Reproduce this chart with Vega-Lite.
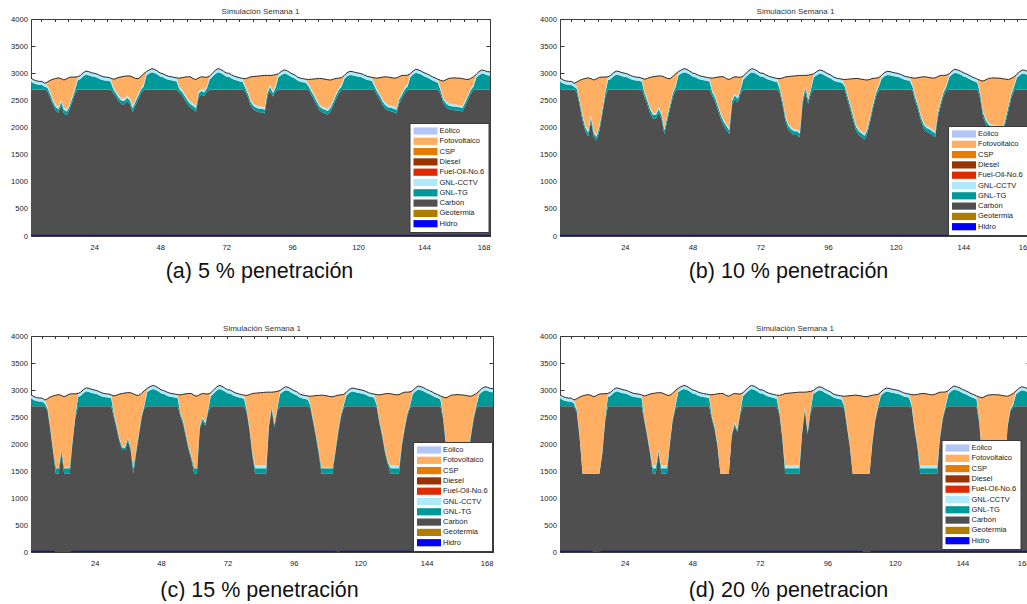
{
  "$schema": "https://vega.github.io/schema/vega-lite/v6.json",
  "background": "white",
  "padding": {"left": 10, "top": 7, "right": 0, "bottom": 0},
  "config": {
    "font": "Liberation Sans",
    "view": {"stroke": "#3c3c3c", "strokeWidth": 1},
    "title": {"font": "Liberation Sans", "fontSize": 8, "fontWeight": "normal", "color": "#333", "offset": -1},
    "axis": {"domain": false, "grid": false, "tickColor": "#333", "tickSize": -4, "labelFont": "Liberation Sans", "labelFontSize": 7.6, "labelColor": "#222", "titleFont": "Liberation Sans", "titleFontSize": 21.5, "titleFontWeight": "normal", "titleColor": "#111"},
    "axisBottom": {"labelPadding": 11, "titleY": 35, "titleBaseline": "middle", "titleAlign": "center"},
    "axisLeft": {"labelPadding": 7.5},
    "axisTop": {"labels": false, "tickSize": -2.5},
    "axisRight": {"labels": false},
    "legend": {"orient": "none", "direction": "vertical", "fillColor": "white", "strokeColor": "#3a3a3a", "strokeWidth": 1, "padding": 4, "labelFont": "Liberation Sans", "labelFontSize": 7.5, "labelColor": "#222", "labelOffset": 10, "symbolType": "M-3,-0.9H3V0.9H-3Z", "symbolSize": 64, "symbolOffset": 8, "symbolStrokeWidth": 0, "symbolOpacity": 1, "rowPadding": 2.3}
  },
  "datasets": {
    "hid": [
      {"p":"a","h":1,"v":22},{"p":"a","h":168,"v":22},
      {"p":"b","h":1,"v":22},{"p":"b","h":168,"v":22},
      {"p":"c","h":1,"v":22},{"p":"c","h":9,"v":22},{"p":"c","h":10,"v":0},{"p":"c","h":15,"v":0},{"p":"c","h":16,"v":22},{"p":"c","h":111,"v":22},{"p":"c","h":112,"v":0},{"p":"c","h":113,"v":22},{"p":"c","h":156,"v":22},{"p":"c","h":157,"v":0},{"p":"c","h":158,"v":22},{"p":"c","h":168,"v":22},
      {"p":"d","h":1,"v":22},{"p":"d","h":12,"v":22},{"p":"d","h":13,"v":0},{"p":"d","h":15,"v":0},{"p":"d","h":16,"v":22},{"p":"d","h":108,"v":22},{"p":"d","h":109,"v":0},{"p":"d","h":111,"v":0},{"p":"d","h":112,"v":22},{"p":"d","h":168,"v":22}
    ],
    "gen": [
      {"p":"n","h":1,"C":2700,"D":145,"E":65,"I":0},{"p":"n","h":2,"C":2700,"D":115,"E":65,"I":0},{"p":"n","h":3,"C":2700,"D":95,"E":65,"I":0},{"p":"n","h":4,"C":2700,"D":85,"E":65,"I":0},{"p":"n","h":5,"C":2700,"D":85,"E":65,"I":0},{"p":"n","h":6,"C":2700,"D":50,"E":65,"I":0},
      {"p":"n","h":18,"C":2700,"D":170,"E":65,"I":0},{"p":"n","h":19,"C":2700,"D":195,"E":65,"I":0},{"p":"n","h":20,"C":2700,"D":245,"E":65,"I":0},{"p":"n","h":21,"C":2700,"D":275,"E":65,"I":0},{"p":"n","h":22,"C":2700,"D":265,"E":65,"I":0},{"p":"n","h":23,"C":2700,"D":245,"E":65,"I":0},{"p":"n","h":24,"C":2700,"D":235,"E":65,"I":0},{"p":"n","h":25,"C":2700,"D":220,"E":65,"I":0},{"p":"n","h":26,"C":2700,"D":195,"E":65,"I":0},{"p":"n","h":27,"C":2700,"D":175,"E":65,"I":0},{"p":"n","h":28,"C":2700,"D":165,"E":65,"I":0},{"p":"n","h":29,"C":2700,"D":160,"E":65,"I":0},{"p":"n","h":30,"C":2700,"D":145,"E":65,"I":0},
      {"p":"n","h":43,"C":2700,"D":265,"E":65,"I":0},{"p":"n","h":44,"C":2700,"D":295,"E":65,"I":0},{"p":"n","h":45,"C":2700,"D":320,"E":65,"I":0},{"p":"n","h":46,"C":2700,"D":305,"E":65,"I":0},{"p":"n","h":47,"C":2700,"D":275,"E":65,"I":0},{"p":"n","h":48,"C":2700,"D":240,"E":65,"I":0},{"p":"n","h":49,"C":2700,"D":225,"E":65,"I":0},{"p":"n","h":50,"C":2700,"D":200,"E":65,"I":0},{"p":"n","h":51,"C":2700,"D":180,"E":65,"I":0},{"p":"n","h":52,"C":2700,"D":170,"E":65,"I":0},{"p":"n","h":53,"C":2700,"D":160,"E":65,"I":0},{"p":"n","h":54,"C":2700,"D":150,"E":65,"I":0},
      {"p":"n","h":66,"C":2700,"D":185,"E":65,"I":0},{"p":"n","h":67,"C":2700,"D":235,"E":65,"I":0},{"p":"n","h":68,"C":2700,"D":285,"E":65,"I":0},{"p":"n","h":69,"C":2700,"D":320,"E":65,"I":0},{"p":"n","h":70,"C":2700,"D":305,"E":65,"I":0},{"p":"n","h":71,"C":2700,"D":275,"E":65,"I":0},{"p":"n","h":72,"C":2700,"D":240,"E":65,"I":0},{"p":"n","h":73,"C":2700,"D":235,"E":65,"I":0},{"p":"n","h":74,"C":2700,"D":205,"E":65,"I":0},{"p":"n","h":75,"C":2700,"D":180,"E":65,"I":0},{"p":"n","h":76,"C":2700,"D":165,"E":65,"I":0},{"p":"n","h":77,"C":2700,"D":150,"E":65,"I":0},{"p":"n","h":78,"C":2700,"D":140,"E":65,"I":0},
      {"p":"n","h":91,"C":2700,"D":225,"E":65,"I":0},{"p":"n","h":92,"C":2700,"D":265,"E":65,"I":0},{"p":"n","h":93,"C":2700,"D":295,"E":65,"I":0},{"p":"n","h":94,"C":2700,"D":285,"E":65,"I":0},{"p":"n","h":95,"C":2700,"D":255,"E":65,"I":0},{"p":"n","h":96,"C":2700,"D":225,"E":65,"I":0},{"p":"n","h":97,"C":2700,"D":205,"E":65,"I":0},{"p":"n","h":98,"C":2700,"D":165,"E":65,"I":0},{"p":"n","h":99,"C":2700,"D":145,"E":65,"I":0},{"p":"n","h":100,"C":2700,"D":135,"E":65,"I":0},{"p":"n","h":101,"C":2700,"D":125,"E":65,"I":0},
      {"p":"n","h":115,"C":2700,"D":195,"E":65,"I":0},{"p":"n","h":116,"C":2700,"D":245,"E":65,"I":0},{"p":"n","h":117,"C":2700,"D":270,"E":65,"I":0},{"p":"n","h":118,"C":2700,"D":265,"E":65,"I":0},{"p":"n","h":119,"C":2700,"D":250,"E":65,"I":0},{"p":"n","h":120,"C":2700,"D":240,"E":65,"I":0},{"p":"n","h":121,"C":2700,"D":230,"E":65,"I":0},{"p":"n","h":122,"C":2700,"D":210,"E":65,"I":0},{"p":"n","h":123,"C":2700,"D":185,"E":65,"I":0},{"p":"n","h":124,"C":2700,"D":170,"E":65,"I":0},{"p":"n","h":125,"C":2700,"D":160,"E":65,"I":0},
      {"p":"n","h":139,"C":2700,"D":225,"E":65,"I":0},{"p":"n","h":140,"C":2700,"D":275,"E":65,"I":0},{"p":"n","h":141,"C":2700,"D":310,"E":65,"I":0},{"p":"n","h":142,"C":2700,"D":295,"E":65,"I":0},{"p":"n","h":143,"C":2700,"D":275,"E":65,"I":0},{"p":"n","h":144,"C":2700,"D":245,"E":65,"I":0},{"p":"n","h":145,"C":2700,"D":225,"E":65,"I":0},{"p":"n","h":146,"C":2700,"D":200,"E":65,"I":0},{"p":"n","h":147,"C":2700,"D":170,"E":65,"I":0},{"p":"n","h":148,"C":2700,"D":150,"E":65,"I":0},{"p":"n","h":149,"C":2700,"D":125,"E":65,"I":0},
      {"p":"n","h":163,"C":2700,"D":215,"E":65,"I":0},{"p":"n","h":164,"C":2700,"D":265,"E":65,"I":0},{"p":"n","h":165,"C":2700,"D":295,"E":65,"I":0},{"p":"n","h":166,"C":2700,"D":285,"E":65,"I":0},{"p":"n","h":167,"C":2700,"D":265,"E":65,"I":0},{"p":"n","h":168,"C":2700,"D":260,"E":65,"I":0},

      {"p":"a","h":7,"C":2670,"D":65,"E":40,"I":65},{"p":"a","h":8,"C":2550,"D":65,"E":40,"I":215},{"p":"a","h":9,"C":2415,"D":65,"E":40,"I":370},{"p":"a","h":10,"C":2315,"D":65,"E":40,"I":485},{"p":"a","h":11,"C":2270,"D":65,"E":40,"I":540},{"p":"a","h":12,"C":2410,"D":65,"E":40,"I":385},{"p":"a","h":13,"C":2260,"D":65,"E":40,"I":510},{"p":"a","h":14,"C":2230,"D":65,"E":40,"I":565},{"p":"a","h":15,"C":2325,"D":65,"E":40,"I":495},{"p":"a","h":16,"C":2475,"D":65,"E":40,"I":350},{"p":"a","h":17,"C":2625,"D":65,"E":40,"I":200},
      {"p":"a","h":31,"C":2630,"D":65,"E":40,"I":155},{"p":"a","h":32,"C":2560,"D":65,"E":40,"I":240},{"p":"a","h":33,"C":2480,"D":65,"E":40,"I":340},{"p":"a","h":34,"C":2430,"D":65,"E":40,"I":400},{"p":"a","h":35,"C":2430,"D":65,"E":40,"I":410},{"p":"a","h":36,"C":2485,"D":65,"E":40,"I":360},{"p":"a","h":37,"C":2430,"D":65,"E":40,"I":415},{"p":"a","h":38,"C":2290,"D":65,"E":40,"I":535},{"p":"a","h":39,"C":2410,"D":65,"E":40,"I":390},{"p":"a","h":40,"C":2520,"D":65,"E":40,"I":275},{"p":"a","h":41,"C":2630,"D":65,"E":40,"I":205},{"p":"a","h":42,"C":2690,"D":65,"E":40,"I":195},
      {"p":"a","h":55,"C":2640,"D":65,"E":40,"I":165},{"p":"a","h":56,"C":2590,"D":65,"E":40,"I":225},{"p":"a","h":57,"C":2510,"D":65,"E":40,"I":315},{"p":"a","h":58,"C":2430,"D":65,"E":40,"I":400},{"p":"a","h":59,"C":2370,"D":65,"E":40,"I":460},{"p":"a","h":60,"C":2330,"D":65,"E":40,"I":465},{"p":"a","h":61,"C":2290,"D":65,"E":40,"I":490},{"p":"a","h":62,"C":2560,"D":65,"E":40,"I":250},{"p":"a","h":63,"C":2610,"D":65,"E":40,"I":220},{"p":"a","h":64,"C":2580,"D":65,"E":40,"I":245},{"p":"a","h":65,"C":2660,"D":65,"E":40,"I":160},
      {"p":"a","h":79,"C":2660,"D":65,"E":40,"I":135},{"p":"a","h":80,"C":2550,"D":65,"E":40,"I":260},{"p":"a","h":81,"C":2400,"D":65,"E":40,"I":430},{"p":"a","h":82,"C":2330,"D":65,"E":40,"I":505},{"p":"a","h":83,"C":2300,"D":65,"E":40,"I":540},{"p":"a","h":84,"C":2280,"D":65,"E":40,"I":565},{"p":"a","h":85,"C":2280,"D":65,"E":40,"I":570},{"p":"a","h":86,"C":2260,"D":65,"E":40,"I":595},{"p":"a","h":87,"C":2570,"D":65,"E":40,"I":285},{"p":"a","h":88,"C":2680,"D":65,"E":40,"I":175},{"p":"a","h":89,"C":2570,"D":65,"E":40,"I":290},{"p":"a","h":90,"C":2670,"D":65,"E":40,"I":200},
      {"p":"a","h":102,"C":2690,"D":65,"E":40,"I":90},{"p":"a","h":103,"C":2600,"D":65,"E":40,"I":185},{"p":"a","h":104,"C":2510,"D":65,"E":40,"I":280},{"p":"a","h":105,"C":2410,"D":65,"E":40,"I":385},{"p":"a","h":106,"C":2320,"D":65,"E":40,"I":480},{"p":"a","h":107,"C":2280,"D":65,"E":40,"I":515},{"p":"a","h":108,"C":2260,"D":65,"E":40,"I":525},{"p":"a","h":109,"C":2240,"D":65,"E":40,"I":535},{"p":"a","h":110,"C":2300,"D":65,"E":40,"I":470},{"p":"a","h":111,"C":2410,"D":65,"E":40,"I":375},{"p":"a","h":112,"C":2530,"D":65,"E":40,"I":270},{"p":"a","h":113,"C":2630,"D":65,"E":40,"I":175},{"p":"a","h":114,"C":2690,"D":65,"E":40,"I":125},
      {"p":"a","h":126,"C":2690,"D":65,"E":40,"I":120},{"p":"a","h":127,"C":2590,"D":65,"E":40,"I":215},{"p":"a","h":128,"C":2510,"D":65,"E":40,"I":305},{"p":"a","h":129,"C":2410,"D":65,"E":40,"I":415},{"p":"a","h":130,"C":2340,"D":65,"E":40,"I":490},{"p":"a","h":131,"C":2310,"D":65,"E":40,"I":515},{"p":"a","h":132,"C":2300,"D":65,"E":40,"I":515},{"p":"a","h":133,"C":2280,"D":65,"E":40,"I":525},{"p":"a","h":134,"C":2260,"D":65,"E":40,"I":550},{"p":"a","h":135,"C":2450,"D":65,"E":40,"I":385},{"p":"a","h":136,"C":2550,"D":65,"E":40,"I":305},{"p":"a","h":137,"C":2640,"D":65,"E":40,"I":215},{"p":"a","h":138,"C":2690,"D":65,"E":40,"I":170},
      {"p":"a","h":150,"C":2620,"D":65,"E":40,"I":145},{"p":"a","h":151,"C":2450,"D":65,"E":40,"I":300},{"p":"a","h":152,"C":2380,"D":65,"E":40,"I":395},{"p":"a","h":153,"C":2340,"D":65,"E":40,"I":460},{"p":"a","h":154,"C":2325,"D":65,"E":40,"I":480},{"p":"a","h":155,"C":2320,"D":65,"E":40,"I":490},{"p":"a","h":156,"C":2315,"D":65,"E":40,"I":490},{"p":"a","h":157,"C":2310,"D":65,"E":40,"I":495},{"p":"a","h":158,"C":2295,"D":65,"E":40,"I":500},{"p":"a","h":159,"C":2400,"D":65,"E":40,"I":385},{"p":"a","h":160,"C":2510,"D":65,"E":40,"I":270},{"p":"a","h":161,"C":2620,"D":65,"E":40,"I":180},{"p":"a","h":162,"C":2690,"D":65,"E":40,"I":140},

      {"p":"b","h":7,"C":2640,"D":70,"E":35,"I":95},{"p":"b","h":8,"C":2400,"D":70,"E":35,"I":365},{"p":"b","h":9,"C":2130,"D":70,"E":35,"I":655},{"p":"b","h":10,"C":1930,"D":70,"E":35,"I":870},{"p":"b","h":11,"C":1840,"D":70,"E":35,"I":970},{"p":"b","h":12,"C":2120,"D":70,"E":35,"I":675},{"p":"b","h":13,"C":1820,"D":70,"E":35,"I":950},{"p":"b","h":14,"C":1760,"D":70,"E":35,"I":1035},{"p":"b","h":15,"C":1950,"D":70,"E":35,"I":870},{"p":"b","h":16,"C":2250,"D":70,"E":35,"I":575},{"p":"b","h":17,"C":2550,"D":70,"E":35,"I":275},
      {"p":"b","h":31,"C":2560,"D":70,"E":35,"I":225},{"p":"b","h":32,"C":2420,"D":70,"E":35,"I":380},{"p":"b","h":33,"C":2260,"D":70,"E":35,"I":560},{"p":"b","h":34,"C":2160,"D":70,"E":35,"I":670},{"p":"b","h":35,"C":2160,"D":70,"E":35,"I":680},{"p":"b","h":36,"C":2270,"D":70,"E":35,"I":575},{"p":"b","h":37,"C":2160,"D":70,"E":35,"I":685},{"p":"b","h":38,"C":1880,"D":70,"E":35,"I":945},{"p":"b","h":39,"C":2120,"D":70,"E":35,"I":680},{"p":"b","h":40,"C":2340,"D":70,"E":35,"I":455},{"p":"b","h":41,"C":2560,"D":70,"E":35,"I":275},{"p":"b","h":42,"C":2680,"D":70,"E":35,"I":205},
      {"p":"b","h":55,"C":2580,"D":70,"E":35,"I":225},{"p":"b","h":56,"C":2480,"D":70,"E":35,"I":335},{"p":"b","h":57,"C":2320,"D":70,"E":35,"I":505},{"p":"b","h":58,"C":2160,"D":70,"E":35,"I":670},{"p":"b","h":59,"C":2040,"D":70,"E":35,"I":790},{"p":"b","h":60,"C":1960,"D":70,"E":35,"I":835},{"p":"b","h":61,"C":1880,"D":70,"E":35,"I":900},{"p":"b","h":62,"C":2420,"D":70,"E":35,"I":390},{"p":"b","h":63,"C":2520,"D":70,"E":35,"I":310},{"p":"b","h":64,"C":2460,"D":70,"E":35,"I":365},{"p":"b","h":65,"C":2620,"D":70,"E":35,"I":200},
      {"p":"b","h":79,"C":2620,"D":70,"E":35,"I":175},{"p":"b","h":80,"C":2400,"D":70,"E":35,"I":410},{"p":"b","h":81,"C":2100,"D":70,"E":35,"I":730},{"p":"b","h":82,"C":1960,"D":70,"E":35,"I":875},{"p":"b","h":83,"C":1900,"D":70,"E":35,"I":940},{"p":"b","h":84,"C":1860,"D":70,"E":35,"I":985},{"p":"b","h":85,"C":1860,"D":70,"E":35,"I":990},{"p":"b","h":86,"C":1820,"D":70,"E":35,"I":1035},{"p":"b","h":87,"C":2440,"D":70,"E":35,"I":415},{"p":"b","h":88,"C":2660,"D":70,"E":35,"I":195},{"p":"b","h":89,"C":2440,"D":70,"E":35,"I":420},{"p":"b","h":90,"C":2640,"D":70,"E":35,"I":230},
      {"p":"b","h":102,"C":2680,"D":70,"E":35,"I":100},{"p":"b","h":103,"C":2500,"D":70,"E":35,"I":285},{"p":"b","h":104,"C":2320,"D":70,"E":35,"I":470},{"p":"b","h":105,"C":2120,"D":70,"E":35,"I":675},{"p":"b","h":106,"C":1940,"D":70,"E":35,"I":860},{"p":"b","h":107,"C":1860,"D":70,"E":35,"I":935},{"p":"b","h":108,"C":1820,"D":70,"E":35,"I":965},{"p":"b","h":109,"C":1780,"D":70,"E":35,"I":995},{"p":"b","h":110,"C":1900,"D":70,"E":35,"I":870},{"p":"b","h":111,"C":2120,"D":70,"E":35,"I":665},{"p":"b","h":112,"C":2360,"D":70,"E":35,"I":440},{"p":"b","h":113,"C":2560,"D":70,"E":35,"I":245},{"p":"b","h":114,"C":2680,"D":70,"E":35,"I":135},
      {"p":"b","h":126,"C":2680,"D":70,"E":35,"I":130},{"p":"b","h":127,"C":2480,"D":70,"E":35,"I":325},{"p":"b","h":128,"C":2320,"D":70,"E":35,"I":495},{"p":"b","h":129,"C":2120,"D":70,"E":35,"I":705},{"p":"b","h":130,"C":1980,"D":70,"E":35,"I":850},{"p":"b","h":131,"C":1920,"D":70,"E":35,"I":905},{"p":"b","h":132,"C":1900,"D":70,"E":35,"I":915},{"p":"b","h":133,"C":1860,"D":70,"E":35,"I":945},{"p":"b","h":134,"C":1820,"D":70,"E":35,"I":990},{"p":"b","h":135,"C":2200,"D":70,"E":35,"I":635},{"p":"b","h":136,"C":2400,"D":70,"E":35,"I":455},{"p":"b","h":137,"C":2580,"D":70,"E":35,"I":275},{"p":"b","h":138,"C":2680,"D":70,"E":35,"I":180},
      {"p":"b","h":150,"C":2540,"D":70,"E":35,"I":225},{"p":"b","h":151,"C":2200,"D":70,"E":35,"I":550},{"p":"b","h":152,"C":2060,"D":70,"E":35,"I":715},{"p":"b","h":153,"C":1980,"D":70,"E":35,"I":820},{"p":"b","h":154,"C":1950,"D":70,"E":35,"I":855},{"p":"b","h":155,"C":1940,"D":70,"E":35,"I":870},{"p":"b","h":156,"C":1930,"D":70,"E":35,"I":875},{"p":"b","h":157,"C":1920,"D":70,"E":35,"I":885},{"p":"b","h":158,"C":1890,"D":70,"E":35,"I":905},{"p":"b","h":159,"C":2100,"D":70,"E":35,"I":685},{"p":"b","h":160,"C":2320,"D":70,"E":35,"I":460},{"p":"b","h":161,"C":2540,"D":70,"E":35,"I":260},{"p":"b","h":162,"C":2680,"D":70,"E":35,"I":150},

      {"p":"c","h":7,"C":2610,"D":45,"E":25,"I":160},{"p":"c","h":8,"C":2250,"D":45,"E":25,"I":550},{"p":"c","h":9,"C":1845,"D":45,"E":25,"I":975},{"p":"c","h":10,"C":1450,"D":100,"E":10,"I":1345},{"p":"c","h":11,"C":1450,"D":100,"E":10,"I":1355},{"p":"c","h":12,"C":1830,"D":45,"E":25,"I":1000},{"p":"c","h":13,"C":1450,"D":100,"E":10,"I":1315},{"p":"c","h":14,"C":1450,"D":100,"E":10,"I":1340},{"p":"c","h":15,"C":1450,"D":100,"E":10,"I":1365},{"p":"c","h":16,"C":2025,"D":45,"E":25,"I":835},{"p":"c","h":17,"C":2475,"D":45,"E":25,"I":385},
      {"p":"c","h":31,"C":2490,"D":45,"E":25,"I":330},{"p":"c","h":32,"C":2280,"D":45,"E":25,"I":555},{"p":"c","h":33,"C":2040,"D":45,"E":25,"I":815},{"p":"c","h":34,"C":1890,"D":45,"E":25,"I":975},{"p":"c","h":35,"C":1890,"D":45,"E":25,"I":985},{"p":"c","h":36,"C":2055,"D":45,"E":25,"I":825},{"p":"c","h":37,"C":1890,"D":45,"E":25,"I":990},{"p":"c","h":38,"C":1450,"D":100,"E":10,"I":1370},{"p":"c","h":39,"C":1830,"D":45,"E":25,"I":1005},{"p":"c","h":40,"C":2160,"D":45,"E":25,"I":670},{"p":"c","h":41,"C":2490,"D":45,"E":25,"I":380},{"p":"c","h":42,"C":2670,"D":45,"E":25,"I":250},
      {"p":"c","h":55,"C":2520,"D":45,"E":25,"I":320},{"p":"c","h":56,"C":2370,"D":45,"E":25,"I":480},{"p":"c","h":57,"C":2130,"D":45,"E":25,"I":730},{"p":"c","h":58,"C":1890,"D":45,"E":25,"I":975},{"p":"c","h":59,"C":1710,"D":45,"E":25,"I":1155},{"p":"c","h":60,"C":1450,"D":100,"E":10,"I":1340},{"p":"c","h":61,"C":1450,"D":100,"E":10,"I":1325},{"p":"c","h":62,"C":2280,"D":45,"E":25,"I":565},{"p":"c","h":63,"C":2430,"D":45,"E":25,"I":435},{"p":"c","h":64,"C":2340,"D":45,"E":25,"I":520},{"p":"c","h":65,"C":2580,"D":45,"E":25,"I":275},
      {"p":"c","h":79,"C":2580,"D":45,"E":25,"I":250},{"p":"c","h":80,"C":2250,"D":45,"E":25,"I":595},{"p":"c","h":81,"C":1800,"D":45,"E":25,"I":1065},{"p":"c","h":82,"C":1450,"D":100,"E":50,"I":1340},{"p":"c","h":83,"C":1450,"D":100,"E":50,"I":1345},{"p":"c","h":84,"C":1450,"D":100,"E":50,"I":1350},{"p":"c","h":85,"C":1450,"D":100,"E":50,"I":1355},{"p":"c","h":86,"C":1450,"D":100,"E":50,"I":1360},{"p":"c","h":87,"C":2310,"D":45,"E":25,"I":580},{"p":"c","h":88,"C":2640,"D":45,"E":25,"I":250},{"p":"c","h":89,"C":2310,"D":45,"E":25,"I":585},{"p":"c","h":90,"C":2610,"D":45,"E":25,"I":295},
      {"p":"c","h":102,"C":2670,"D":45,"E":25,"I":145},{"p":"c","h":103,"C":2400,"D":45,"E":25,"I":420},{"p":"c","h":104,"C":2130,"D":45,"E":25,"I":695},{"p":"c","h":105,"C":1830,"D":45,"E":25,"I":1000},{"p":"c","h":106,"C":1450,"D":100,"E":10,"I":1345},{"p":"c","h":107,"C":1450,"D":100,"E":10,"I":1340},{"p":"c","h":108,"C":1450,"D":100,"E":10,"I":1330},{"p":"c","h":109,"C":1450,"D":100,"E":10,"I":1320},{"p":"c","h":110,"C":1450,"D":100,"E":10,"I":1315},{"p":"c","h":111,"C":1830,"D":45,"E":25,"I":990},{"p":"c","h":112,"C":2190,"D":45,"E":25,"I":645},{"p":"c","h":113,"C":2490,"D":45,"E":25,"I":350},{"p":"c","h":114,"C":2670,"D":45,"E":25,"I":180},
      {"p":"c","h":126,"C":2670,"D":45,"E":25,"I":175},{"p":"c","h":127,"C":2370,"D":45,"E":25,"I":470},{"p":"c","h":128,"C":2130,"D":45,"E":25,"I":720},{"p":"c","h":129,"C":1830,"D":45,"E":25,"I":1030},{"p":"c","h":130,"C":1620,"D":45,"E":25,"I":1245},{"p":"c","h":131,"C":1450,"D":100,"E":50,"I":1330},{"p":"c","h":132,"C":1450,"D":100,"E":50,"I":1320},{"p":"c","h":133,"C":1450,"D":100,"E":50,"I":1310},{"p":"c","h":134,"C":1450,"D":100,"E":50,"I":1315},{"p":"c","h":135,"C":1950,"D":45,"E":25,"I":920},{"p":"c","h":136,"C":2250,"D":45,"E":25,"I":640},{"p":"c","h":137,"C":2520,"D":45,"E":25,"I":370},{"p":"c","h":138,"C":2670,"D":45,"E":25,"I":225},
      {"p":"c","h":150,"C":2460,"D":45,"E":25,"I":340},{"p":"c","h":151,"C":1950,"D":45,"E":25,"I":835},{"p":"c","h":152,"C":1740,"D":45,"E":25,"I":1070},{"p":"c","h":153,"C":1620,"D":45,"E":25,"I":1215},{"p":"c","h":154,"C":1450,"D":100,"E":10,"I":1350},{"p":"c","h":155,"C":1450,"D":100,"E":10,"I":1355},{"p":"c","h":156,"C":1450,"D":100,"E":10,"I":1350},{"p":"c","h":157,"C":1450,"D":100,"E":10,"I":1350},{"p":"c","h":158,"C":1450,"D":100,"E":10,"I":1340},{"p":"c","h":159,"C":1800,"D":45,"E":25,"I":1020},{"p":"c","h":160,"C":2130,"D":45,"E":25,"I":685},{"p":"c","h":161,"C":2460,"D":45,"E":25,"I":375},{"p":"c","h":162,"C":2670,"D":45,"E":25,"I":195},

      {"p":"d","h":7,"C":2580,"D":40,"E":25,"I":195},{"p":"d","h":8,"C":2100,"D":40,"E":25,"I":705},{"p":"d","h":9,"C":1450,"D":0,"E":0,"I":1440},{"p":"d","h":10,"C":1450,"D":0,"E":0,"I":1455},{"p":"d","h":11,"C":1450,"D":0,"E":0,"I":1465},{"p":"d","h":12,"C":1450,"D":0,"E":0,"I":1450},{"p":"d","h":13,"C":1450,"D":0,"E":0,"I":1425},{"p":"d","h":14,"C":1450,"D":0,"E":0,"I":1450},{"p":"d","h":15,"C":1450,"D":0,"E":0,"I":1475},{"p":"d","h":16,"C":1800,"D":40,"E":25,"I":1065},{"p":"d","h":17,"C":2400,"D":40,"E":25,"I":465},
      {"p":"d","h":31,"C":2420,"D":40,"E":25,"I":405},{"p":"d","h":32,"C":2140,"D":40,"E":25,"I":700},{"p":"d","h":33,"C":1820,"D":40,"E":25,"I":1040},{"p":"d","h":34,"C":1450,"D":100,"E":50,"I":1335},{"p":"d","h":35,"C":1450,"D":100,"E":50,"I":1345},{"p":"d","h":36,"C":1840,"D":40,"E":25,"I":1045},{"p":"d","h":37,"C":1450,"D":100,"E":50,"I":1350},{"p":"d","h":38,"C":1450,"D":100,"E":50,"I":1330},{"p":"d","h":39,"C":1450,"D":100,"E":50,"I":1305},{"p":"d","h":40,"C":1980,"D":40,"E":25,"I":855},{"p":"d","h":41,"C":2420,"D":40,"E":25,"I":455},{"p":"d","h":42,"C":2660,"D":40,"E":25,"I":265},
      {"p":"d","h":55,"C":2460,"D":40,"E":25,"I":385},{"p":"d","h":56,"C":2260,"D":40,"E":25,"I":595},{"p":"d","h":57,"C":1940,"D":40,"E":25,"I":925},{"p":"d","h":58,"C":1450,"D":0,"E":0,"I":1485},{"p":"d","h":59,"C":1450,"D":0,"E":0,"I":1485},{"p":"d","h":60,"C":1450,"D":0,"E":0,"I":1450},{"p":"d","h":61,"C":1450,"D":0,"E":0,"I":1435},{"p":"d","h":62,"C":2140,"D":40,"E":25,"I":710},{"p":"d","h":63,"C":2340,"D":40,"E":25,"I":530},{"p":"d","h":64,"C":2220,"D":40,"E":25,"I":645},{"p":"d","h":65,"C":2540,"D":40,"E":25,"I":320},
      {"p":"d","h":79,"C":2540,"D":40,"E":25,"I":295},{"p":"d","h":80,"C":2100,"D":40,"E":25,"I":750},{"p":"d","h":81,"C":1450,"D":100,"E":50,"I":1335},{"p":"d","h":82,"C":1450,"D":100,"E":50,"I":1340},{"p":"d","h":83,"C":1450,"D":100,"E":50,"I":1345},{"p":"d","h":84,"C":1450,"D":100,"E":50,"I":1350},{"p":"d","h":85,"C":1450,"D":100,"E":50,"I":1355},{"p":"d","h":86,"C":1450,"D":100,"E":50,"I":1360},{"p":"d","h":87,"C":2180,"D":40,"E":25,"I":715},{"p":"d","h":88,"C":2620,"D":40,"E":25,"I":275},{"p":"d","h":89,"C":2180,"D":40,"E":25,"I":720},{"p":"d","h":90,"C":2580,"D":40,"E":25,"I":330},
      {"p":"d","h":102,"C":2660,"D":40,"E":25,"I":160},{"p":"d","h":103,"C":2300,"D":40,"E":25,"I":525},{"p":"d","h":104,"C":1940,"D":40,"E":25,"I":890},{"p":"d","h":105,"C":1450,"D":0,"E":0,"I":1450},{"p":"d","h":106,"C":1450,"D":0,"E":0,"I":1455},{"p":"d","h":107,"C":1450,"D":0,"E":0,"I":1450},{"p":"d","h":108,"C":1450,"D":0,"E":0,"I":1440},{"p":"d","h":109,"C":1450,"D":0,"E":0,"I":1430},{"p":"d","h":110,"C":1450,"D":0,"E":0,"I":1425},{"p":"d","h":111,"C":1450,"D":0,"E":0,"I":1440},{"p":"d","h":112,"C":2020,"D":40,"E":25,"I":820},{"p":"d","h":113,"C":2420,"D":40,"E":25,"I":425},{"p":"d","h":114,"C":2660,"D":40,"E":25,"I":195},
      {"p":"d","h":126,"C":2660,"D":40,"E":25,"I":190},{"p":"d","h":127,"C":2260,"D":40,"E":25,"I":585},{"p":"d","h":128,"C":1940,"D":40,"E":25,"I":915},{"p":"d","h":129,"C":1450,"D":100,"E":50,"I":1330},{"p":"d","h":130,"C":1450,"D":100,"E":50,"I":1335},{"p":"d","h":131,"C":1450,"D":100,"E":50,"I":1330},{"p":"d","h":132,"C":1450,"D":100,"E":50,"I":1320},{"p":"d","h":133,"C":1450,"D":100,"E":50,"I":1310},{"p":"d","h":134,"C":1450,"D":100,"E":50,"I":1315},{"p":"d","h":135,"C":1450,"D":100,"E":50,"I":1340},{"p":"d","h":136,"C":2100,"D":40,"E":25,"I":795},{"p":"d","h":137,"C":2460,"D":40,"E":25,"I":435},{"p":"d","h":138,"C":2660,"D":40,"E":25,"I":240},
      {"p":"d","h":150,"C":2380,"D":40,"E":25,"I":425},{"p":"d","h":151,"C":1700,"D":40,"E":25,"I":1090},{"p":"d","h":152,"C":1450,"D":0,"E":0,"I":1430},{"p":"d","h":153,"C":1450,"D":0,"E":0,"I":1455},{"p":"d","h":154,"C":1450,"D":0,"E":0,"I":1460},{"p":"d","h":155,"C":1450,"D":0,"E":0,"I":1465},{"p":"d","h":156,"C":1450,"D":0,"E":0,"I":1460},{"p":"d","h":157,"C":1450,"D":0,"E":0,"I":1460},{"p":"d","h":158,"C":1450,"D":0,"E":0,"I":1450},{"p":"d","h":159,"C":1450,"D":0,"E":0,"I":1440},{"p":"d","h":160,"C":2300,"D":40,"E":25,"I":520},{"p":"d","h":161,"C":2600,"D":40,"E":25,"I":240},{"p":"d","h":162,"C":2680,"D":40,"E":25,"I":190}
    ]
  },
  "concat": [
    {
      "width": 459, "height": 217,
      "title": "Simulación Semana 1",
      "layer": [
        {
          "data": {"name": "gen"},
          "transform": [{"filter": "datum.p == 'a' || datum.p == 'n'"}, {"fold": ["C", "D", "E", "I"], "as": ["k", "v"]}],
          "mark": {"type": "area", "interpolate": "linear"},
          "encoding": {
            "x": {"field": "h", "type": "quantitative", "scale": {"domain": [1, 168], "nice": false, "zero": false}, "axis": {"orient": "bottom", "values": [24, 48, 72, 96, 120, 144, 168], "format": "d", "title": "(a) 5 % penetración", "titleX": 228}},
            "y": {"field": "v", "type": "quantitative", "stack": "zero", "scale": {"domain": [0, 4000], "nice": false}, "axis": {"orient": "left", "values": [0, 500, 1000, 1500, 2000, 2500, 3000, 3500, 4000], "format": "d", "title": null}},
            "color": {"field": "k", "type": "nominal", "scale": {"domain": ["J", "I", "H", "G", "F", "E", "D", "C", "B", "A"], "range": ["#b3c6f7", "#ffae62", "#e37c00", "#993300", "#dd2a00", "#aeeafc", "#009999", "#4f4f4f", "#b07c00", "#0000ff"]},
              "legend": {"title": null, "legendX": 378.5, "legendY": 104, "labelExpr": "datum.label == 'J' ? 'Eólico' : datum.label == 'I' ? 'Fotovoltaico' : datum.label == 'H' ? 'CSP' : datum.label == 'G' ? 'Diesel' : datum.label == 'F' ? 'Fuel-Oil-No.6' : datum.label == 'E' ? 'GNL-CCTV' : datum.label == 'D' ? 'GNL-TG' : datum.label == 'C' ? 'Carbón' : datum.label == 'B' ? 'Geotermia' : 'Hidro'"}},
            "order": {"field": "k", "sort": "ascending"}
          }
        },
        {
          "data": {"name": "hid"},
          "transform": [{"filter": "datum.p == 'a'"}],
          "mark": {"type": "area", "color": "#1010c0"},
          "encoding": {
            "x": {"field": "h", "type": "quantitative", "scale": {"domain": [1, 168], "nice": false, "zero": false}, "axis": null},
            "y": {"field": "v", "type": "quantitative", "scale": {"domain": [0, 4000], "nice": false}, "axis": null}
          }
        },
        {
          "data": {"name": "gen"},
          "transform": [{"filter": "datum.p == 'a' || datum.p == 'n'"}, {"fold": ["C", "D", "E", "I"], "as": ["k", "v"]}],
          "mark": {"type": "line", "color": "#2e2620", "strokeWidth": 1},
          "encoding": {
            "x": {"field": "h", "type": "quantitative", "scale": {"domain": [1, 168], "nice": false, "zero": false}, "axis": {"orient": "top", "values": [4.8, 9.6, 14.4, 19.2, 24, 28.8, 33.6, 38.4, 43.2, 48, 52.8, 57.6, 62.4, 67.2, 72, 76.8, 81.6, 86.4, 91.2, 96, 100.8, 105.6, 110.4, 115.2, 120, 124.8, 129.6, 134.4, 139.2, 144, 148.8, 153.6, 158.4, 163.2], "title": null}},
            "y": {"aggregate": "sum", "field": "v", "type": "quantitative", "scale": {"domain": [0, 4000], "nice": false}, "axis": {"orient": "right", "values": [0, 500, 1000, 1500, 2000, 2500, 3000, 3500, 4000], "title": null}}
          }
        }
      ],
      "resolve": {"axis": {"x": "independent", "y": "independent"}}
    },
    {
      "width": 471, "height": 217,
      "title": "Simulación Semana 1",
      "layer": [
        {
          "data": {"name": "gen"},
          "transform": [{"filter": "datum.p == 'b' || datum.p == 'n'"}, {"fold": ["C", "D", "E", "I"], "as": ["k", "v"]}],
          "mark": {"type": "area", "interpolate": "linear"},
          "encoding": {
            "x": {"field": "h", "type": "quantitative", "scale": {"domain": [1, 168], "nice": false, "zero": false}, "axis": {"orient": "bottom", "values": [24, 48, 72, 96, 120, 144, 168], "format": "d", "title": "(b) 10 % penetración", "titleX": 228}},
            "y": {"field": "v", "type": "quantitative", "stack": "zero", "scale": {"domain": [0, 4000], "nice": false}, "axis": {"orient": "left", "values": [0, 500, 1000, 1500, 2000, 2500, 3000, 3500, 4000], "format": "d", "title": null}},
            "color": {"field": "k", "type": "nominal", "scale": {"domain": ["J", "I", "H", "G", "F", "E", "D", "C", "B", "A"], "range": ["#b3c6f7", "#ffae62", "#e37c00", "#993300", "#dd2a00", "#aeeafc", "#009999", "#4f4f4f", "#b07c00", "#0000ff"]},
              "legend": {"title": null, "legendX": 388, "legendY": 107, "labelExpr": "datum.label == 'J' ? 'Eólico' : datum.label == 'I' ? 'Fotovoltaico' : datum.label == 'H' ? 'CSP' : datum.label == 'G' ? 'Diesel' : datum.label == 'F' ? 'Fuel-Oil-No.6' : datum.label == 'E' ? 'GNL-CCTV' : datum.label == 'D' ? 'GNL-TG' : datum.label == 'C' ? 'Carbón' : datum.label == 'B' ? 'Geotermia' : 'Hidro'"}},
            "order": {"field": "k", "sort": "ascending"}
          }
        },
        {
          "data": {"name": "hid"},
          "transform": [{"filter": "datum.p == 'b'"}],
          "mark": {"type": "area", "color": "#1010c0"},
          "encoding": {
            "x": {"field": "h", "type": "quantitative", "scale": {"domain": [1, 168], "nice": false, "zero": false}, "axis": null},
            "y": {"field": "v", "type": "quantitative", "scale": {"domain": [0, 4000], "nice": false}, "axis": null}
          }
        },
        {
          "data": {"name": "gen"},
          "transform": [{"filter": "datum.p == 'b' || datum.p == 'n'"}, {"fold": ["C", "D", "E", "I"], "as": ["k", "v"]}],
          "mark": {"type": "line", "color": "#2e2620", "strokeWidth": 1},
          "encoding": {
            "x": {"field": "h", "type": "quantitative", "scale": {"domain": [1, 168], "nice": false, "zero": false}, "axis": {"orient": "top", "values": [4.8, 9.6, 14.4, 19.2, 24, 28.8, 33.6, 38.4, 43.2, 48, 52.8, 57.6, 62.4, 67.2, 72, 76.8, 81.6, 86.4, 91.2, 96, 100.8, 105.6, 110.4, 115.2, 120, 124.8, 129.6, 134.4, 139.2, 144, 148.8, 153.6, 158.4, 163.2], "title": null}},
            "y": {"aggregate": "sum", "field": "v", "type": "quantitative", "scale": {"domain": [0, 4000], "nice": false}, "axis": {"orient": "right", "values": [0, 500, 1000, 1500, 2000, 2500, 3000, 3500, 4000], "title": null}}
          }
        }
      ],
      "resolve": {"axis": {"x": "independent", "y": "independent"}}
    },
    {
      "width": 462, "height": 216,
      "title": "Simulación Semana 1",
      "layer": [
        {
          "data": {"name": "gen"},
          "transform": [{"filter": "datum.p == 'c' || datum.p == 'n'"}, {"fold": ["C", "D", "E", "I"], "as": ["k", "v"]}],
          "mark": {"type": "area", "interpolate": "linear"},
          "encoding": {
            "x": {"field": "h", "type": "quantitative", "scale": {"domain": [1, 168], "nice": false, "zero": false}, "axis": {"orient": "bottom", "values": [24, 48, 72, 96, 120, 144, 168], "format": "d", "title": "(c) 15 % penetración", "titleX": 228, "titleY": 38}},
            "y": {"field": "v", "type": "quantitative", "stack": "zero", "scale": {"domain": [0, 4000], "nice": false}, "axis": {"orient": "left", "values": [0, 500, 1000, 1500, 2000, 2500, 3000, 3500, 4000], "format": "d", "title": null}},
            "color": {"field": "k", "type": "nominal", "scale": {"domain": ["J", "I", "H", "G", "F", "E", "D", "C", "B", "A"], "range": ["#b3c6f7", "#ffae62", "#e37c00", "#993300", "#dd2a00", "#aeeafc", "#009999", "#4f4f4f", "#b07c00", "#0000ff"]},
              "legend": {"title": null, "legendX": 382, "legendY": 106, "labelExpr": "datum.label == 'J' ? 'Eólico' : datum.label == 'I' ? 'Fotovoltaico' : datum.label == 'H' ? 'CSP' : datum.label == 'G' ? 'Diesel' : datum.label == 'F' ? 'Fuel-Oil-No.6' : datum.label == 'E' ? 'GNL-CCTV' : datum.label == 'D' ? 'GNL-TG' : datum.label == 'C' ? 'Carbón' : datum.label == 'B' ? 'Geotermia' : 'Hidro'"}},
            "order": {"field": "k", "sort": "ascending"}
          }
        },
        {
          "data": {"name": "hid"},
          "transform": [{"filter": "datum.p == 'c'"}],
          "mark": {"type": "area", "color": "#1010c0"},
          "encoding": {
            "x": {"field": "h", "type": "quantitative", "scale": {"domain": [1, 168], "nice": false, "zero": false}, "axis": null},
            "y": {"field": "v", "type": "quantitative", "scale": {"domain": [0, 4000], "nice": false}, "axis": null}
          }
        },
        {
          "data": {"name": "gen"},
          "transform": [{"filter": "datum.p == 'c' || datum.p == 'n'"}, {"fold": ["C", "D", "E", "I"], "as": ["k", "v"]}],
          "mark": {"type": "line", "color": "#2e2620", "strokeWidth": 1},
          "encoding": {
            "x": {"field": "h", "type": "quantitative", "scale": {"domain": [1, 168], "nice": false, "zero": false}, "axis": {"orient": "top", "values": [4.8, 9.6, 14.4, 19.2, 24, 28.8, 33.6, 38.4, 43.2, 48, 52.8, 57.6, 62.4, 67.2, 72, 76.8, 81.6, 86.4, 91.2, 96, 100.8, 105.6, 110.4, 115.2, 120, 124.8, 129.6, 134.4, 139.2, 144, 148.8, 153.6, 158.4, 163.2], "title": null}},
            "y": {"aggregate": "sum", "field": "v", "type": "quantitative", "scale": {"domain": [0, 4000], "nice": false}, "axis": {"orient": "right", "values": [0, 500, 1000, 1500, 2000, 2500, 3000, 3500, 4000], "title": null}}
          }
        }
      ],
      "resolve": {"axis": {"x": "independent", "y": "independent"}}
    },
    {
      "width": 470, "height": 216,
      "title": "Simulación Semana 1",
      "layer": [
        {
          "data": {"name": "gen"},
          "transform": [{"filter": "datum.p == 'd' || datum.p == 'n'"}, {"fold": ["C", "D", "E", "I"], "as": ["k", "v"]}],
          "mark": {"type": "area", "interpolate": "linear"},
          "encoding": {
            "x": {"field": "h", "type": "quantitative", "scale": {"domain": [1, 168], "nice": false, "zero": false}, "axis": {"orient": "bottom", "values": [24, 48, 72, 96, 120, 144, 168], "format": "d", "title": "(d) 20 % penetracion", "titleX": 228, "titleY": 38}},
            "y": {"field": "v", "type": "quantitative", "stack": "zero", "scale": {"domain": [0, 4000], "nice": false}, "axis": {"orient": "left", "values": [0, 500, 1000, 1500, 2000, 2500, 3000, 3500, 4000], "format": "d", "title": null}},
            "color": {"field": "k", "type": "nominal", "scale": {"domain": ["J", "I", "H", "G", "F", "E", "D", "C", "B", "A"], "range": ["#b3c6f7", "#ffae62", "#e37c00", "#993300", "#dd2a00", "#aeeafc", "#009999", "#4f4f4f", "#b07c00", "#0000ff"]},
              "legend": {"title": null, "legendX": 381.5, "legendY": 104, "labelExpr": "datum.label == 'J' ? 'Eólico' : datum.label == 'I' ? 'Fotovoltaico' : datum.label == 'H' ? 'CSP' : datum.label == 'G' ? 'Diesel' : datum.label == 'F' ? 'Fuel-Oil-No.6' : datum.label == 'E' ? 'GNL-CCTV' : datum.label == 'D' ? 'GNL-TG' : datum.label == 'C' ? 'Carbón' : datum.label == 'B' ? 'Geotermia' : 'Hidro'"}},
            "order": {"field": "k", "sort": "ascending"}
          }
        },
        {
          "data": {"name": "hid"},
          "transform": [{"filter": "datum.p == 'd'"}],
          "mark": {"type": "area", "color": "#1010c0"},
          "encoding": {
            "x": {"field": "h", "type": "quantitative", "scale": {"domain": [1, 168], "nice": false, "zero": false}, "axis": null},
            "y": {"field": "v", "type": "quantitative", "scale": {"domain": [0, 4000], "nice": false}, "axis": null}
          }
        },
        {
          "data": {"name": "gen"},
          "transform": [{"filter": "datum.p == 'd' || datum.p == 'n'"}, {"fold": ["C", "D", "E", "I"], "as": ["k", "v"]}],
          "mark": {"type": "line", "color": "#2e2620", "strokeWidth": 1},
          "encoding": {
            "x": {"field": "h", "type": "quantitative", "scale": {"domain": [1, 168], "nice": false, "zero": false}, "axis": {"orient": "top", "values": [4.8, 9.6, 14.4, 19.2, 24, 28.8, 33.6, 38.4, 43.2, 48, 52.8, 57.6, 62.4, 67.2, 72, 76.8, 81.6, 86.4, 91.2, 96, 100.8, 105.6, 110.4, 115.2, 120, 124.8, 129.6, 134.4, 139.2, 144, 148.8, 153.6, 158.4, 163.2], "title": null}},
            "y": {"aggregate": "sum", "field": "v", "type": "quantitative", "scale": {"domain": [0, 4000], "nice": false}, "axis": {"orient": "right", "values": [0, 500, 1000, 1500, 2000, 2500, 3000, 3500, 4000], "title": null}}
          }
        }
      ],
      "resolve": {"axis": {"x": "independent", "y": "independent"}}
    }
  ],
  "columns": 2,
  "spacing": {"row": 100, "column": 67},
  "bounds": "flush",
  "resolve": {"scale": {"color": "independent"}, "legend": {"color": "independent"}}
}
